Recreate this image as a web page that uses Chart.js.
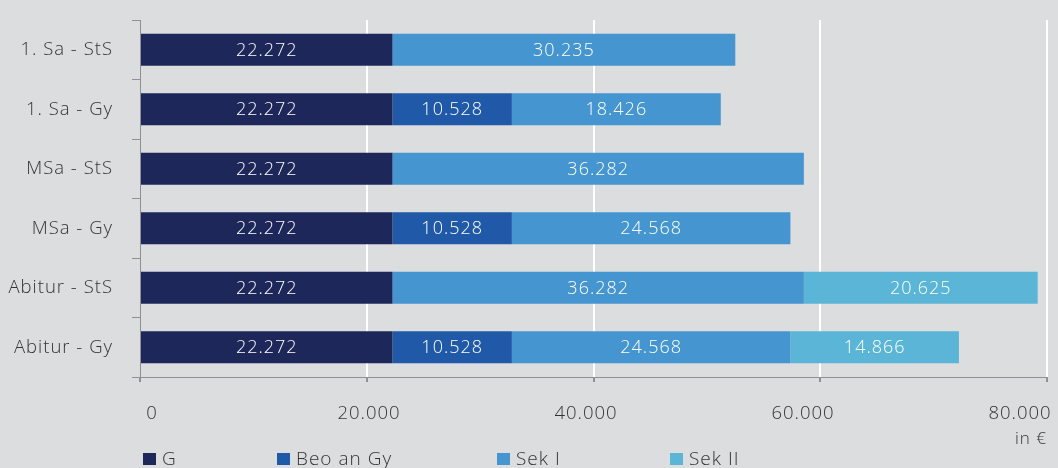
<!DOCTYPE html>
<html>
<head>
<meta charset="utf-8">
<script src="https://cdn.jsdelivr.net/npm/chart.js@4.4.0/dist/chart.umd.min.js"></script>
<style>
  html, body { margin: 0; padding: 0; background: #dcdddf; overflow: hidden; }
  #wrap { position: relative; width: 1058px; height: 468px; }
  #legend { position: absolute; left: 0; top: 0; width: 1058px; height: 468px; pointer-events: none; }
  .lg-box { position: absolute; width: 13px; height: 12px; top: 453px; }
  .lg-txt { position: absolute; top: 446px; font: 300 19px "Open Sans", sans-serif; letter-spacing: 1px; color: #333; line-height: 24px; white-space: nowrap; }
</style>
</head>
<body>
<div id="wrap">
  <canvas id="chart" width="1058" height="468"></canvas>
  <div id="legend"></div>
</div>
<script>
// =============================
// DATA
// =============================
const categories = ["1. Sa - StS", "1. Sa - Gy", "MSa - StS", "MSa - Gy", "Abitur - StS", "Abitur - Gy"];
const seriesNames = ["G", "Beo an Gy", "Sek I", "Sek II"];
const gValues   = [22272, 22272, 22272, 22272, 22272, 22272];
const beoValues = [null, 10528, null, 10528, null, 10528];
const sek1Values = [30235, 18426, 36282, 24568, 36282, 24568];
const sek2Values = [null, null, null, null, 20625, 14866];
const xTicks = [0, 20000, 40000, 60000, 80000];

const colors = ["#1d2759", "#1f59a8", "#4595d0", "#5ab5d7"];
const legendX = [143, 277, 497, 670];

const FONT = "'Open Sans', sans-serif";
const WEIGHT = 300;

function fmt(v){
  return String(v).replace(/\B(?=(\d{3})+(?!\d))/g, ".");
}

// wider text like the original
const spacing = {
  id: "spacing",
  beforeUpdate(chart){ chart.ctx.letterSpacing = "1px"; },
  beforeLayout(chart){ chart.ctx.letterSpacing = "1px"; },
  beforeDraw(chart){ chart.ctx.letterSpacing = "1px"; }
};

// =============================
// BAR LABELS
// =============================
const barLabels = {
  id: "barLabels",
  afterDatasetsDraw(chart){
    let ctx = chart.ctx;
    ctx.save();
    ctx.fillStyle = "#ffffff";
    ctx.font = WEIGHT + " 18px " + FONT;
    ctx.letterSpacing = "1px";
    ctx.textAlign = "center";
    ctx.textBaseline = "middle";
    chart.data.datasets.forEach(function(ds, i){
      let meta = chart.getDatasetMeta(i);
      meta.data.forEach(function(bar, j){
        let v = ds.data[j];
        if(v === null || v === undefined) return;
        let p = bar.getProps(["x", "y", "base"], true);
        ctx.fillText(fmt(v), (p.x + p.base) / 2, p.y + 1);
      });
    });
    ctx.restore();
  }
};

// =============================
// CHART
// =============================
let allData = [gValues, beoValues, sek1Values, sek2Values];

let chart = new Chart(document.getElementById("chart"), {
  type: "bar",
  data: {
    labels: categories,
    datasets: allData.map(function(d, i){
      return {
        label: seriesNames[i],
        data: d,
        backgroundColor: colors[i],
        borderWidth: 0,
        categoryPercentage: 1,
        barPercentage: 0.54
      };
    })
  },
  plugins: [spacing, barLabels],
  options: {
    indexAxis: "y",
    responsive: false,
    animation: false,
    devicePixelRatio: 1,
    layout: { padding: { top: 20, right: 11, left: 0, bottom: 0 } },
    plugins: {
      legend: { display: false },
      tooltip: { enabled: false }
    },
    scales: {
      y: {
        stacked: true,
        afterFit: function(s){ s.width = 140; s.paddingTop = 0; s.paddingBottom = 0; },
        ticks: { color: "#333", font: { family: FONT, size: 18.5, weight: WEIGHT }, padding: 19 },
        grid: { drawOnChartArea: false, tickLength: 8, color: "#8f9093" },
        border: { color: "#8f9093", width: 1 }
      },
      x: {
        stacked: true,
        min: 0,
        max: 80000,
        afterBuildTicks: function(s){ s.ticks = xTicks.map(function(v){ return { value: v }; }); },
        afterFit: function(s){ s.height = 5; s.paddingLeft = 0; s.paddingRight = 0; },
        ticks: { display: false },
        grid: {
          tickLength: 5,
          lineWidth: 2,
          color: function(c){ return c.tick && c.tick.value === 0 ? "rgba(0,0,0,0)" : "#ffffff"; },
          tickColor: "#8f9093"
        },
        border: { color: "#8f9093", width: 1 }
      },
      xl: {
        type: "linear",
        position: "bottom",
        min: -1106,
        max: 82488,
        afterBuildTicks: function(s){ s.ticks = xTicks.map(function(v){ return { value: v }; }); },
        afterFit: function(s){ s.height = 86; s.paddingLeft = 0; s.paddingRight = 0; },
        grid: { display: false },
        border: { display: false },
        ticks: {
          color: "#333",
          font: { family: FONT, size: 18.5, weight: WEIGHT },
          padding: 13,
          maxRotation: 0,
          callback: function(v){ return fmt(v); }
        },
        title: {
          display: true,
          text: "in €",
          align: "end",
          color: "#333",
          font: { family: FONT, size: 17, weight: WEIGHT },
          padding: { top: 0, bottom: 19 }
        }
      }
    }
  }
});

// =============================
// LEGEND
// =============================
let legend = document.getElementById("legend");
seriesNames.forEach(function(name, i){
  let box = document.createElement("div");
  box.className = "lg-box";
  box.style.left = legendX[i] + "px";
  box.style.background = colors[i];
  legend.appendChild(box);

  let txt = document.createElement("div");
  txt.className = "lg-txt";
  txt.style.left = (legendX[i] + 19) + "px";
  txt.textContent = name;
  legend.appendChild(txt);
});
</script>
</body>
</html>
